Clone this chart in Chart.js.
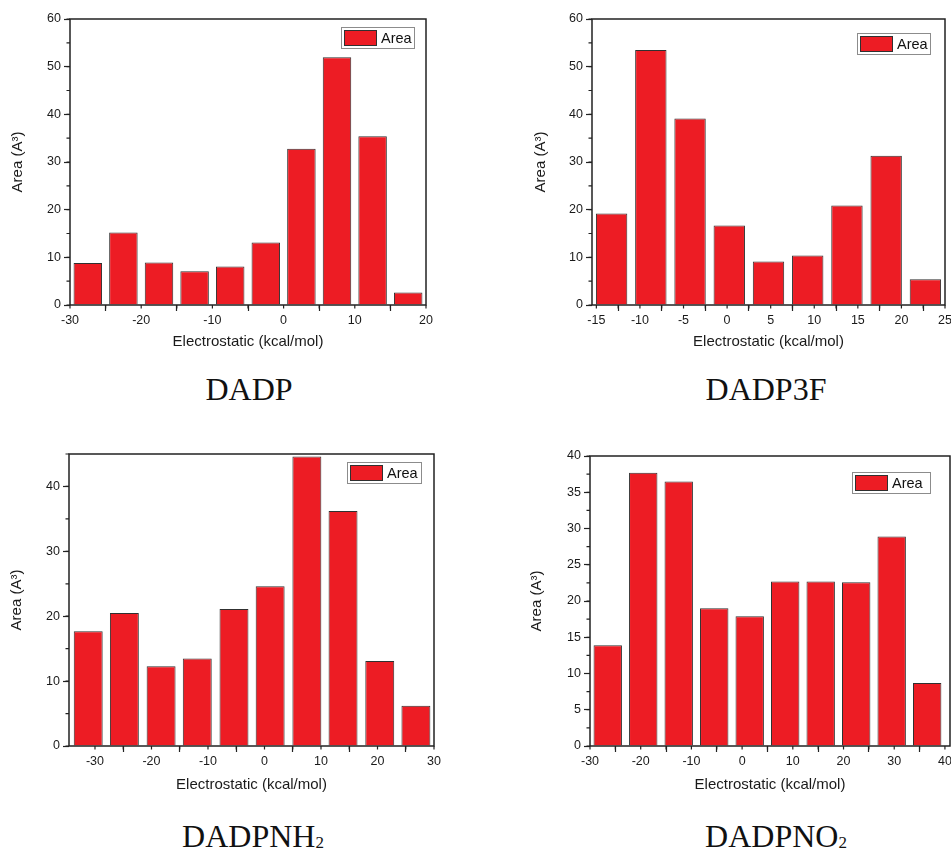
<!DOCTYPE html>
<html>
<head>
<meta charset="utf-8">
<script src="https://cdn.jsdelivr.net/npm/chart.js@4.4.0/dist/chart.umd.min.js"></script>
<style>
  html, body { margin: 0; padding: 0; background: #fff; overflow: hidden; }
  body { width: 951px; height: 854px; position: relative; }
  canvas { position: absolute; }
  .caption {
    position: absolute;
    font-family: "Liberation Serif", "Times New Roman", serif;
    font-size: 32px;
    line-height: 32px;
    color: #111;
    transform: translateX(-50%);
    white-space: nowrap;
  }
  .caption sub { font-size: 17px; vertical-align: -1px; line-height: 0; }
</style>
</head>
<body>
<canvas id="dadp" width="475" height="365" style="left:0;top:0"></canvas>
<canvas id="dadp3f" width="470" height="365" style="left:500px;top:0"></canvas>
<canvas id="dadpnh2" width="475" height="380" style="left:0;top:430px"></canvas>
<canvas id="dadpno2" width="480" height="380" style="left:500px;top:430px"></canvas>

<div class="caption" style="left:249px;top:373px">DADP</div>
<div class="caption" style="left:766px;top:373px">DADP3F</div>
<div class="caption" style="left:253px;top:820px">DADPNH<sub>2</sub></div>
<div class="caption" style="left:776px;top:820px">DADPNO<sub>2</sub></div>

<script>
// bin centres (kcal/mol) and areas
const dadpCenters = [-27.5, -22.5, -17.5, -12.5, -7.5, -2.5, 2.5, 7.5, 12.5, 17.5];
const dadpArea = [8.8, 15.2, 8.9, 7.1, 8.1, 13.1, 32.8, 52.0, 35.4, 2.6];

const dadp3fCenters = [-13.25, -8.75, -4.25, 0.25, 4.75, 9.25, 13.75, 18.25, 22.75];
const dadp3fArea = [19.2, 53.5, 39.1, 16.7, 9.1, 10.4, 20.9, 31.3, 5.4];

const dadpnh2Centers = [-31.2, -24.8, -18.3, -11.9, -5.4, 1.0, 7.5, 13.9, 20.4, 26.8];
const dadpnh2Area = [17.7, 20.5, 12.3, 13.5, 21.1, 24.6, 44.6, 36.2, 13.1, 6.2];

const dadpno2Centers = [-26.5, -19.5, -12.5, -5.5, 1.5, 8.5, 15.5, 22.5, 29.5, 36.5];
const dadpno2Area = [13.9, 37.7, 36.5, 19.0, 17.9, 22.7, 22.7, 22.6, 28.9, 8.7];

Chart.defaults.font.family = '"Liberation Sans", Arial, sans-serif';
Chart.defaults.color = '#1a1a1a';

// box frame, minor ticks and the little Origin-style legend
const frame = {
  id: 'frame',
  afterDatasetsDraw(chart, args, o) {
    const { ctx, chartArea: a, scales: { x, y } } = chart;
    ctx.save();
    ctx.strokeStyle = '#222';
    ctx.lineWidth = 1.2;
    ctx.beginPath();
    for (let v = Math.ceil(x.min / o.xMinor) * o.xMinor; v <= x.max + 1e-9; v += o.xMinor) {
      const px = x.getPixelForValue(v);
      ctx.moveTo(px, a.bottom);
      ctx.lineTo(px, a.bottom + 3.5);
    }
    for (let v = Math.ceil(y.min / o.yMinor) * o.yMinor; v <= y.max + 1e-9; v += o.yMinor) {
      const py = y.getPixelForValue(v);
      ctx.moveTo(a.left, py);
      ctx.lineTo(a.left - 3.5, py);
    }
    ctx.stroke();
    ctx.lineWidth = 1.5;
    ctx.strokeRect(a.left, a.top, a.right - a.left, a.bottom - a.top);

    const ds = chart.data.datasets[0];
    const w = o.legend.width, h = 21;
    const lx = Math.round(a.right - o.legend.right - w);
    const ly = Math.round(a.top + o.legend.top);
    ctx.lineWidth = 1;
    ctx.strokeStyle = '#8c8c8c';
    ctx.strokeRect(lx + 0.5, ly + 0.5, w, h);
    ctx.fillStyle = ds.backgroundColor;
    ctx.fillRect(lx + 3, ly + 3, 33, 16);
    ctx.strokeStyle = ds.borderColor;
    ctx.strokeRect(lx + 3.5, ly + 3.5, 32, 15);
    ctx.fillStyle = '#111';
    ctx.font = '14.5px "Liberation Sans", Arial, sans-serif';
    ctx.textBaseline = 'middle';
    ctx.fillText(ds.label, lx + 40, ly + 12);
    ctx.restore();
  }
};

function histogram(id, centers, values, o) {
  const tickFont = { size: 12.5 };
  const grid = {
    drawOnChartArea: false,
    drawTicks: true,
    tickLength: 6,
    tickColor: '#222',
    tickWidth: 1.2
  };
  new Chart(document.getElementById(id), {
    type: 'bar',
    data: {
      labels: centers,
      datasets: [{
        label: 'Area',
        data: values,
        backgroundColor: '#ED1C24',
        borderColor: '#303030',
        borderWidth: 1,
        categoryPercentage: 1,
        barPercentage: 0.8
      }]
    },
    options: {
      responsive: false,
      animation: false,
      layout: { padding: o.padding },
      plugins: {
        legend: { display: false },
        tooltip: { enabled: false },
        frame: { xMinor: o.xMinor, yMinor: o.yMinor, legend: o.legend }
      },
      scales: {
        x: {
          type: 'linear',
          min: o.xMin,
          max: o.xMax,
          offset: false,
          grid: grid,
          border: { display: false },
          ticks: { stepSize: o.xStep, includeBounds: false, autoSkip: false, maxRotation: 0, padding: 2, font: tickFont },
          title: { display: true, text: 'Electrostatic (kcal/mol)', font: { size: 15 }, padding: { top: 0, bottom: 4 } },
          afterFit: function (s) { s.height = o.xHeight; }
        },
        y: {
          min: 0,
          max: o.yMax,
          grid: grid,
          border: { display: false },
          ticks: { stepSize: o.yStep, includeBounds: false, autoSkip: false, padding: 3, font: tickFont },
          title: { display: true, text: 'Area (A³)', font: { size: 15 }, padding: { top: o.yTitlePad, bottom: 0 } },
          afterFit: function (s) { s.width = o.yWidth; }
        }
      }
    },
    plugins: [frame]
  });
}

histogram('dadp', dadpCenters, dadpArea, {
  xMin: -30, xMax: 20, xStep: 10, xMinor: 5, yMax: 60, yStep: 10, yMinor: 5,
  yWidth: 70, yTitlePad: 9, xHeight: 50,
  padding: { left: 0, top: 19, right: 49, bottom: 10 },
  legend: { right: 12, top: 8, width: 73 }
});

histogram('dadp3f', dadp3fCenters, dadp3fArea, {
  xMin: -15.5, xMax: 25, xStep: 5, xMinor: 2.5, yMax: 60, yStep: 10, yMinor: 5,
  yWidth: 92, yTitlePad: 32, xHeight: 50,
  padding: { left: 0, top: 19, right: 25, bottom: 10 },
  legend: { right: 15, top: 14, width: 73 }
});

histogram('dadpnh2', dadpnh2Centers, dadpnh2Area, {
  xMin: -34.6, xMax: 30, xStep: 10, xMinor: 5, yMax: 45, yStep: 10, yMinor: 5,
  yWidth: 69, yTitlePad: 8, xHeight: 52,
  padding: { left: 0, top: 24, right: 41, bottom: 12 },
  legend: { right: 13, top: 8, width: 74 }
});

histogram('dadpno2', dadpno2Centers, dadpno2Area, {
  xMin: -30, xMax: 41, xStep: 10, xMinor: 5, yMax: 40, yStep: 5, yMinor: 2.5,
  yWidth: 90, yTitlePad: 28, xHeight: 52,
  padding: { left: 0, top: 26, right: 30, bottom: 12 },
  legend: { right: 20, top: 16, width: 78 }
});
</script>
</body>
</html>
